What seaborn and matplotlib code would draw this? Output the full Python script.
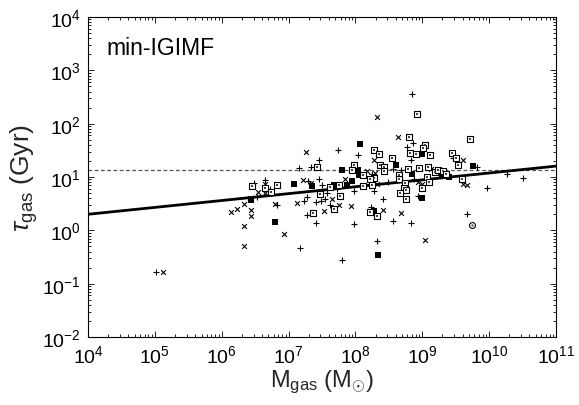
import numpy as np
import pandas as pd
import matplotlib
matplotlib.use("Agg")
import matplotlib.pyplot as plt
import seaborn as sns

# ---- data (log10 of M_gas [Msun], log10 of tau_gas [Gyr]) ----
plus_logm = [7.735, 8.038, 7.450, 7.156, 7.340, 8.248, 7.295, 7.450, 7.500, 6.478,
             6.652, 6.722, 6.532, 6.831, 7.166, 7.235, 7.275, 7.415, 7.480, 7.545,
             7.570, 7.720, 7.624, 7.271, 7.406, 7.978, 7.794, 7.974, 8.273, 8.228,
             8.318, 8.846, 8.865, 8.767, 9.459, 8.826, 8.566, 9.814, 8.681, 8.491,
             8.880, 9.963, 10.262, 10.511, 8.940, 8.408, 8.566, 8.826, 9.673, 5.017]
plus_logt = [1.506, 1.419, 1.313, 1.168, 1.187, 1.050, 0.924, 0.962, 0.844, 0.881,
             0.951, 0.769, 0.624, 0.474, -0.338, 0.544, 0.624, 0.525, 0.549, 0.594,
             0.699, 0.769, 0.469, 0.281, 0.144, 0.126, -0.557, 0.744, 0.737, 0.444,
             -0.201, 2.563, 1.631, 1.569, 1.363, 1.313, 1.157, 1.194, 1.131, 0.913,
             0.956, 0.788, 1.063, 0.975, 0.650, 0.594, 0.174, 0.131, 0.300, -0.774]

cross_logm = [7.256, 8.278, 8.168, 7.839, 7.216, 7.335, 8.318, 6.643, 6.543, 6.643,
              6.423, 6.329, 6.229, 6.134, 6.433, 6.433, 6.329, 6.329, 6.792, 6.931,
              7.130, 7.649, 7.750, 7.934, 7.534, 8.417, 8.318, 8.641, 9.604, 8.293,
              9.135, 8.931, 8.991, 9.613, 9.673, 8.681, 9.045, 5.126]
cross_logt = [1.476, 1.318, 1.112, 0.962, 0.938, 0.887, 0.863, 0.863, 0.726, 0.707,
              0.613, 0.493, 0.399, 0.351, 0.388, 0.268, 0.088, -0.294, 0.488, -0.075,
              0.506, 0.581, 0.482, 0.450, 0.362, 0.375, 2.132, 1.757, 1.313, 1.082,
              1.157, 0.906, 0.876, 0.863, 0.844, 0.332, -0.188, -0.782]

fsq_logm = [8.068, 7.799, 8.038, 8.049, 7.944, 7.077, 7.350, 7.679, 7.874, 6.433,
            6.792, 8.273, 8.333, 8.991, 8.607, 9.763, 9.395, 9.290, 8.841, 8.991]
fsq_logt = [1.613, 1.131, 1.131, 1.031, 0.919, 0.863, 0.825, 0.849, 0.857, 0.568,
            0.156, 0.356, -0.463, 1.431, 1.219, 1.206, 1.007, 1.018, 1.050, 0.606]

box_logm = [8.278, 7.978, 7.430, 7.949, 8.109, 8.278, 8.218, 7.620, 7.750, 8.118,
            8.243, 6.453, 6.647, 6.742, 6.831, 7.466, 7.769, 7.675, 7.361, 8.218,
            8.327, 8.925, 8.806, 9.045, 9.006, 9.718, 8.357, 8.816, 8.910, 9.120,
            9.449, 9.508, 8.542, 8.372, 8.432, 9.529, 8.432, 8.782, 8.955, 9.090,
            9.190, 9.230, 9.314, 9.354, 8.651, 8.651, 8.741, 9.075, 9.105, 9.594,
            8.726, 8.756, 8.991, 8.666, 8.756]
box_logt = [1.506, 1.224, 1.181, 1.131, 1.037, 0.988, 0.969, 0.819, 0.857, 0.825,
            0.844, 0.831, 0.801, 0.718, 0.844, 0.675, 0.643, 0.407, 0.319, 0.343,
            0.268, 2.175, 1.749, 1.594, 1.551, 1.706, 1.425, 1.444, 1.431, 1.419,
            1.444, 1.363, 1.363, 1.219, 1.194, 1.224, 1.112, 1.157, 1.176, 1.187,
            1.093, 1.131, 1.106, 1.063, 1.031, 0.956, 0.894, 1.007, 0.913, 0.969,
            0.801, 0.756, 0.801, 0.694, 0.594]

circ_logm = [9.748]
circ_logt = [0.099]

fit_m = [1e4, 1e11]
fit_t = [2.0, 16.0]
hubble_time = 13.7

label_text = "min-IGIMF"
xlabel = r"M$_{\rm gas}$ (M$_{\odot}$)"
ylabel = r"$\tau_{\rm gas}$ (Gyr)"

# ---- style ----
sns.set_style("ticks")
plt.rcParams["font.family"] = ["Liberation Sans", "DejaVu Sans"]
plt.rcParams["mathtext.fontset"] = "custom"
plt.rcParams["mathtext.rm"] = "Liberation Sans"
plt.rcParams["mathtext.it"] = "Liberation Sans:italic"
plt.rcParams["mathtext.bf"] = "Liberation Sans:bold"
plt.rcParams["mathtext.sf"] = "Liberation Sans"

def frame(lm, lt):
    return pd.DataFrame({"m": 10 ** np.asarray(lm), "t": 10 ** np.asarray(lt)})

fig = plt.figure(figsize=(5.79, 4.06), dpi=100)
ax = fig.add_axes([88 / 579, 1 - 338 / 406, (556 - 88) / 579, (338 - 18) / 406])
ax.set_xscale("log")
ax.set_yscale("log")

sns.lineplot(data=pd.DataFrame({"m": fit_m, "t": fit_t}), x="m", y="t", ax=ax,
             color="black", linewidth=2.0, zorder=2)
ax.axhline(hubble_time, color="#555555", linewidth=0.9, linestyle=(0, (3, 2)), zorder=1)

sns.scatterplot(data=frame(plus_logm, plus_logt), x="m", y="t", ax=ax, marker="+",
                color="black", s=14, linewidth=0.8, zorder=3)
sns.scatterplot(data=frame(cross_logm, cross_logt), x="m", y="t", ax=ax, marker="x",
                color="black", s=12, linewidth=0.8, zorder=3)
sns.scatterplot(data=frame(fsq_logm, fsq_logt), x="m", y="t", ax=ax, marker="s",
                color="black", s=14, linewidth=0, zorder=3)
sns.scatterplot(data=frame(box_logm, box_logt), x="m", y="t", ax=ax, marker="s",
                facecolor="white", edgecolor="black", s=18, linewidth=0.8, zorder=3)
sns.scatterplot(data=frame(box_logm, box_logt), x="m", y="t", ax=ax, marker="s",
                color="#444444", s=2.5, linewidth=0, zorder=4)
sns.scatterplot(data=frame(circ_logm, circ_logt), x="m", y="t", ax=ax, marker="o",
                facecolor="white", edgecolor="black", s=18, linewidth=0.8, zorder=3)
sns.scatterplot(data=frame(circ_logm, circ_logt), x="m", y="t", ax=ax, marker="o",
                color="#444444", s=2.5, linewidth=0, zorder=4)

ax.set_xlim(1e4, 1e11)
ax.set_ylim(1e-2, 1e4)
ax.set_xticks([10.0 ** k for k in range(4, 12)])
ax.set_yticks([10.0 ** k for k in range(-2, 5)])
ax.xaxis.set_minor_locator(matplotlib.ticker.LogLocator(base=10, subs=np.arange(2, 10), numticks=20))
ax.yaxis.set_minor_locator(matplotlib.ticker.LogLocator(base=10, subs=np.arange(2, 10), numticks=20))
ax.xaxis.set_minor_formatter(matplotlib.ticker.NullFormatter())
ax.yaxis.set_minor_formatter(matplotlib.ticker.NullFormatter())

for sp in ax.spines.values():
    sp.set_visible(True)
    sp.set_linewidth(0.8)
    sp.set_color("black")
ax.tick_params(which="both", direction="in", top=True, right=True, colors="black",
               width=0.6, labelsize=14)
ax.tick_params(which="major", length=4)
ax.tick_params(which="minor", length=2)
ax.tick_params(axis="x", which="major", pad=5)
ax.tick_params(axis="y", which="major", pad=5)

ax.set_xlabel(xlabel, fontsize=17, labelpad=1)
ax.set_ylabel(ylabel, fontsize=19, labelpad=2)
ax.text(0.04, 0.905, label_text, transform=ax.transAxes, fontsize=16.5,
        ha="left", va="center", color="black")

fig.savefig("out.png", dpi=100)
